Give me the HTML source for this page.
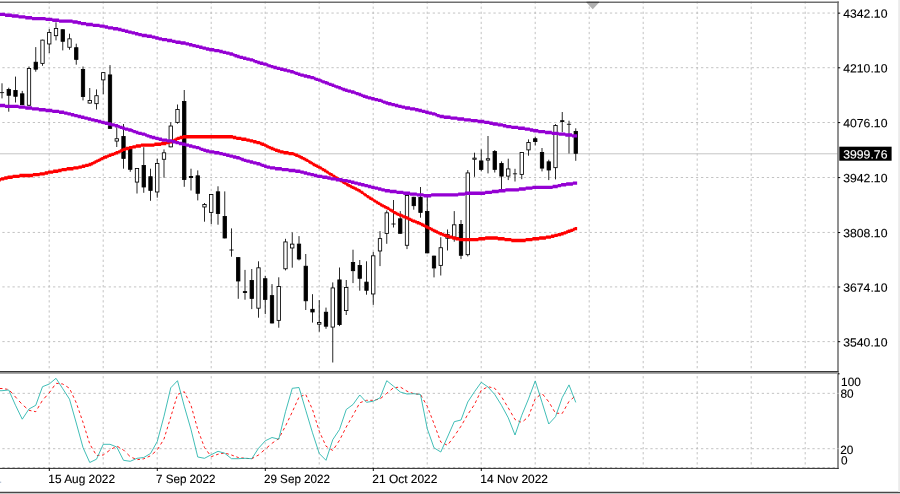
<!DOCTYPE html>
<html lang="en"><head><meta charset="utf-8"><title>Chart</title>
<style>
html,body{margin:0;padding:0;background:#fff;}
body{width:900px;height:494px;overflow:hidden;}
svg{display:block;}
text{font-family:"Liberation Sans",sans-serif;font-size:12px;fill:#000;stroke:#000;stroke-width:0.12px;text-rendering:geometricPrecision;}
</style></head><body>
<svg width="900" height="494" viewBox="0 0 900 494">
<rect width="900" height="494" fill="#fff"/>
<g stroke="#b8b8b8" stroke-width="0.85" stroke-dasharray="2.3 2.7625" fill="none">
<path d="M49.2 1.5V468"/>
<path d="M103.2 1.5V468"/>
<path d="M157.2 1.5V468"/>
<path d="M211.2 1.5V468"/>
<path d="M265.2 1.5V468"/>
<path d="M319.2 1.5V468"/>
<path d="M373.2 1.5V468"/>
<path d="M427.2 1.5V468"/>
<path d="M481.2 1.5V468"/>
<path d="M535.2 1.5V468"/>
<path d="M589.2 1.5V468"/>
<path d="M643.2 1.5V468"/>
<path d="M697.2 1.5V468"/>
<path d="M751.2 1.5V468"/>
<path d="M805.2 1.5V468"/>
<path d="M-2.7 13.05H838"/>
<path d="M-2.7 67.7H838"/>
<path d="M-2.7 122.5H838"/>
<path d="M-2.7 177.5H838"/>
<path d="M-2.7 232.45H838"/>
<path d="M-2.7 286.9H838"/>
<path d="M-2.7 341.6H838"/>
<path d="M-2.7 393.35H838"/>
<path d="M-2.7 448.7H838"/>
</g>
<path d="M0 153.8H838" stroke="#c0c0c0" stroke-width="0.9" fill="none"/>
<g stroke="#000" stroke-width="0.85">
<path d="M2 83.3V98.4" fill="none"/><path d="M-0.1 92.6H4.1" fill="none"/>
<path d="M8.75 87.7V111.7" fill="none"/><rect x="7.08" y="89.52" width="3.35" height="5.75" fill="#000"/>
<path d="M15.5 76.6V102.5" fill="none"/><rect x="13.82" y="90.42" width="3.35" height="5.85" fill="#000"/>
<path d="M22.25 90.9V105.1" fill="none"/><rect x="20.57" y="93.83" width="3.35" height="10.85" fill="#000"/>
<path d="M29 66.5V105.7" fill="none"/><rect x="27.32" y="68.52" width="3.35" height="36.75" fill="#fff"/>
<path d="M35.75 47.1V71.7" fill="none"/><rect x="34.08" y="62.22" width="3.35" height="6.95" fill="#000"/>
<path d="M42.5 39.7V65.8" fill="none"/><rect x="40.83" y="40.12" width="3.35" height="23.25" fill="#fff"/>
<path d="M49.25 29V53.1" fill="none"/><rect x="47.58" y="32.52" width="3.35" height="11.45" fill="#fff"/>
<path d="M56 22.3V40.4" fill="none"/><rect x="54.33" y="28.53" width="3.35" height="7.15" fill="#fff"/>
<path d="M62.75 29.3V50.4" fill="none"/><rect x="61.08" y="29.73" width="3.35" height="11.55" fill="#000"/>
<path d="M69.5 33.7V49.7" fill="none"/><rect x="67.83" y="38.82" width="3.35" height="8.45" fill="#fff"/>
<path d="M76.25 43.7V64.7" fill="none"/><rect x="74.58" y="47.72" width="3.35" height="11.65" fill="#000"/>
<path d="M83 66.5V100.4" fill="none"/><rect x="81.33" y="69.52" width="3.35" height="27.05" fill="#000"/>
<path d="M89.75 88V103.5" fill="none"/><rect x="88.08" y="100.52" width="3.35" height="2.55" fill="#fff"/>
<path d="M96.5 89.4V109.5" fill="none"/><rect x="94.83" y="95.72" width="3.35" height="7.95" fill="#fff"/>
<path d="M103.25 72.2V94.2" fill="none"/><rect x="101.58" y="72.62" width="3.35" height="7.25" fill="#fff"/>
<path d="M110 65.1V128.8" fill="none"/><rect x="108.33" y="74.92" width="3.35" height="53.45" fill="#000"/>
<path d="M116.75 127.3V147" fill="none"/><rect x="115.08" y="138.73" width="3.35" height="2.35" fill="#fff"/>
<path d="M123.5 124V168.7" fill="none"/><rect x="121.83" y="136.43" width="3.35" height="21.95" fill="#000"/>
<path d="M130.25 149V171.8" fill="none"/><rect x="128.57" y="149.43" width="3.35" height="19.85" fill="#000"/>
<path d="M137 168.1V193.5" fill="none"/><rect x="135.32" y="168.53" width="3.35" height="13.55" fill="#fff"/>
<path d="M143.75 147.2V192.8" fill="none"/><rect x="142.07" y="165.53" width="3.35" height="21.45" fill="#000"/>
<path d="M150.5 168.7V200.8" fill="none"/><rect x="148.82" y="176.73" width="3.35" height="13.65" fill="#000"/>
<path d="M157.25 158.7V197.7" fill="none"/><rect x="155.57" y="163.43" width="3.35" height="28.55" fill="#fff"/>
<path d="M164 149.4V177.7" fill="none"/><rect x="162.32" y="152.83" width="3.35" height="6.45" fill="#fff"/>
<path d="M170.75 122.3V147.3" fill="none"/><rect x="169.07" y="126.02" width="3.35" height="20.85" fill="#fff"/>
<path d="M177.5 104.5V123.7" fill="none"/><rect x="175.82" y="109.52" width="3.35" height="12.85" fill="#fff"/>
<path d="M184.25 90V186.8" fill="none"/><rect x="182.57" y="101.52" width="3.35" height="77.95" fill="#000"/>
<path d="M191 168.7V190.5" fill="none"/><rect x="189.32" y="176.43" width="3.35" height="1.15" fill="#000"/>
<path d="M197.75 170.4V200.4" fill="none"/><rect x="196.07" y="175.83" width="3.35" height="17.45" fill="#000"/>
<path d="M204.5 203V221.7" fill="none"/><rect x="202.82" y="204.53" width="3.35" height="2.45" fill="#fff"/>
<path d="M211.25 194.1V224.1" fill="none"/><rect x="209.57" y="194.53" width="3.35" height="17.85" fill="#fff"/>
<path d="M218 186.3V224.7" fill="none"/><rect x="216.32" y="191.83" width="3.35" height="21.65" fill="#000"/>
<path d="M224.75 191.4V238.4" fill="none"/><rect x="223.07" y="216.43" width="3.35" height="21.55" fill="#000"/>
<path d="M231.5 228.4V256.7" fill="none"/><path d="M229.4 250H233.6" fill="none"/>
<path d="M238.25 257.2V298.8" fill="none"/><rect x="236.57" y="257.62" width="3.35" height="23.35" fill="#000"/>
<path d="M245 269.9V299.7" fill="none"/><rect x="243.32" y="291.62" width="3.35" height="0.95" fill="#000"/>
<path d="M251.75 269V309.1" fill="none"/><rect x="250.07" y="280.53" width="3.35" height="17.85" fill="#000"/>
<path d="M258.5 261.3V317.7" fill="none"/><rect x="256.82" y="267.82" width="3.35" height="40.35" fill="#fff"/>
<path d="M265.25 276V314.1" fill="none"/><rect x="263.57" y="278.73" width="3.35" height="20.65" fill="#000"/>
<path d="M272 284.1V323.4" fill="none"/><rect x="270.32" y="295.62" width="3.35" height="27.35" fill="#000"/>
<path d="M278.75 277.3V327.7" fill="none"/><rect x="277.07" y="286.53" width="3.35" height="33.85" fill="#fff"/>
<path d="M285.5 238.8V270.4" fill="none"/><rect x="283.82" y="241.93" width="3.35" height="26.85" fill="#fff"/>
<path d="M292.25 232.4V267.7" fill="none"/><rect x="290.57" y="244.12" width="3.35" height="3.85" fill="#fff"/>
<path d="M299 236.1V260.4" fill="none"/><rect x="297.32" y="244.12" width="3.35" height="14.85" fill="#000"/>
<path d="M305.75 254V310" fill="none"/><rect x="304.07" y="266.23" width="3.35" height="34.55" fill="#000"/>
<path d="M312.5 294.2V322.6" fill="none"/><rect x="310.82" y="309.32" width="3.35" height="2.65" fill="#000"/>
<path d="M319.25 300.1V331.7" fill="none"/><rect x="317.57" y="322.53" width="3.35" height="1.65" fill="#fff"/>
<path d="M326 307.6V328.8" fill="none"/><rect x="324.32" y="312.23" width="3.35" height="13.95" fill="#000"/>
<path d="M332.75 282.4V362.5" fill="none"/><rect x="331.07" y="287.93" width="3.35" height="39.15" fill="#fff"/>
<path d="M339.5 267.5V326.1" fill="none"/><rect x="337.82" y="279.93" width="3.35" height="44.65" fill="#000"/>
<path d="M346.25 280V315" fill="none"/><rect x="344.57" y="287.53" width="3.35" height="23.05" fill="#fff"/>
<path d="M353 249.7V283.1" fill="none"/><rect x="351.32" y="262.53" width="3.35" height="8.15" fill="#000"/>
<path d="M359.75 260V290.7" fill="none"/><rect x="358.07" y="265.43" width="3.35" height="12.85" fill="#000"/>
<path d="M366.5 261.3V294.7" fill="none"/><rect x="364.82" y="282.12" width="3.35" height="8.15" fill="#000"/>
<path d="M373.25 251.9V304.9" fill="none"/><rect x="371.57" y="255.83" width="3.35" height="38.15" fill="#fff"/>
<path d="M380 231.1V266.1" fill="none"/><rect x="378.32" y="238.62" width="3.35" height="12.35" fill="#fff"/>
<path d="M386.75 210.4V243.8" fill="none"/><rect x="385.07" y="212.83" width="3.35" height="20.55" fill="#fff"/>
<path d="M393.5 200V227.5" fill="none"/><path d="M391.4 224H395.6" fill="none"/>
<path d="M400.25 211.1V233.7" fill="none"/><rect x="398.57" y="218.83" width="3.35" height="14.45" fill="#000"/>
<path d="M407 195V249.1" fill="none"/><rect x="405.32" y="195.43" width="3.35" height="49.85" fill="#fff"/>
<path d="M413.75 196.8V209.7" fill="none"/><rect x="412.07" y="197.23" width="3.35" height="8.45" fill="#000"/>
<path d="M420.5 187V217.7" fill="none"/><rect x="418.82" y="197.43" width="3.35" height="14.95" fill="#000"/>
<path d="M427.25 197V253.3" fill="none"/><rect x="425.57" y="211.53" width="3.35" height="41.35" fill="#000"/>
<path d="M434 255.7V277.4" fill="none"/><rect x="432.32" y="256.12" width="3.35" height="11.85" fill="#000"/>
<path d="M440.75 237.2V275.5" fill="none"/><rect x="439.07" y="247.73" width="3.35" height="17.65" fill="#fff"/>
<path d="M447.5 229.5V250.5" fill="none"/><rect x="445.82" y="234.43" width="3.35" height="3.85" fill="#fff"/>
<path d="M454.25 211.1V241.7" fill="none"/><rect x="452.57" y="224.83" width="3.35" height="12.45" fill="#fff"/>
<path d="M461 220V259.1" fill="none"/><rect x="459.32" y="224.43" width="3.35" height="30.85" fill="#000"/>
<path d="M467.75 170.1V256.4" fill="none"/><rect x="466.07" y="172.93" width="3.35" height="81.75" fill="#fff"/>
<path d="M474.5 152.7V176.8" fill="none"/><rect x="472.82" y="158.12" width="3.35" height="1.15" fill="#fff"/>
<path d="M481.25 149.4V171.4" fill="none"/><rect x="479.57" y="160.93" width="3.35" height="8.45" fill="#000"/>
<path d="M488 136V173.4" fill="none"/><rect x="486.32" y="158.73" width="3.35" height="1.35" fill="#fff"/>
<path d="M494.75 150V172.5" fill="none"/><rect x="493.07" y="151.53" width="3.35" height="17.85" fill="#000"/>
<path d="M501.5 161.4V189.5" fill="none"/><rect x="499.82" y="163.53" width="3.35" height="12.55" fill="#000"/>
<path d="M508.25 158.7V180.1" fill="none"/><rect x="506.57" y="168.93" width="3.35" height="7.15" fill="#fff"/>
<path d="M515 168.8V181.5" fill="none"/><path d="M512.9 173.8H517.1" fill="none"/>
<path d="M521.75 152V179.2" fill="none"/><rect x="520.08" y="152.43" width="3.35" height="21.95" fill="#fff"/>
<path d="M528.5 139.4V155.7" fill="none"/><rect x="526.83" y="142.43" width="3.35" height="7.45" fill="#fff"/>
<path d="M535.25 136.7V145.4" fill="none"/><rect x="533.58" y="138.73" width="3.35" height="2.85" fill="#000"/>
<path d="M542 148V171.4" fill="none"/><rect x="540.33" y="152.43" width="3.35" height="15.65" fill="#000"/>
<path d="M548.75 159.7V180.1" fill="none"/><rect x="547.08" y="161.83" width="3.35" height="8.15" fill="#000"/>
<path d="M555.5 124.1V179.4" fill="none"/><rect x="553.83" y="125.52" width="3.35" height="42.15" fill="#fff"/>
<path d="M562.25 112V132.1" fill="none"/><rect x="560.58" y="120.72" width="3.35" height="0.85" fill="#000"/>
<path d="M569 120.7V153.5" fill="none"/><path d="M566.9 124.3H571.1" fill="none"/>
<path d="M575.75 128.3V160.8" fill="none"/><rect x="574.08" y="131.43" width="3.35" height="21.85" fill="#000"/>
</g>
<path transform="scale(0.84375)" d="M0 211h1v4h-1zM1 210h4v4h-4zM5 209h4v4h-4zM9 208h6v4h-6zM15 207h8v4h-8zM23 206h16v4h-16zM39 205h8v4h-8zM47 204h6v4h-6zM53 203h4v4h-4zM57 202h6v4h-6zM63 201h6v4h-6zM69 200h4v4h-4zM73 199h6v4h-6zM79 198h8v4h-8zM87 197h6v4h-6zM93 196h4v4h-4zM97 195h4v4h-4zM101 194h4v4h-4zM105 193h3v4h-3zM108 192h2v4h-2zM110 191h2v4h-2zM112 190h2v4h-2zM114 189h2v4h-2zM116 188h2v4h-2zM118 187h2v4h-2zM120 186h2v4h-2zM122 185h2v4h-2zM124 184h3v4h-3zM127 183h2v4h-2zM129 182h3v4h-3zM132 181h3v4h-3zM135 180h2v4h-2zM137 179h3v4h-3zM140 178h2v4h-2zM142 177h2v4h-2zM144 176h2v4h-2zM146 175h3v4h-3zM149 174h4v4h-4zM153 173h4v4h-4zM157 172h4v4h-4zM161 171h6v4h-6zM167 170h16v4h-16zM183 169h8v4h-8zM191 168h6v4h-6zM197 167h4v4h-4zM201 166h3v4h-3zM204 165h2v4h-2zM206 164h2v4h-2zM208 163h2v4h-2zM210 162h3v4h-3zM213 161h4v4h-4zM217 160h59v4h-59zM276 161h4v4h-4zM280 162h6v4h-6zM286 163h6v4h-6zM292 164h4v4h-4zM296 165h4v4h-4zM300 166h4v4h-4zM304 167h4v4h-4zM308 168h2v4h-2zM310 169h3v4h-3zM313 170h2v4h-2zM315 171h2v4h-2zM317 172h2v4h-2zM319 173h2v4h-2zM321 174h3v4h-3zM324 175h2v4h-2zM326 176h3v4h-3zM329 177h3v4h-3zM332 178h4v4h-4zM336 179h6v4h-6zM342 180h6v4h-6zM348 181h2v4h-2zM350 182h3v4h-3zM353 183h2v4h-2zM355 184h2v4h-2zM357 185h2v4h-2zM359 186h2v4h-2zM361 187h2v4h-2zM363 188h2v4h-2zM365 189h1v4h-1zM366 190h2v4h-2zM368 191h2v4h-2zM370 192h1v4h-1zM371 193h2v4h-2zM373 194h2v4h-2zM375 195h2v4h-2zM377 196h2v4h-2zM379 197h2v4h-2zM381 198h1v4h-1zM382 199h2v4h-2zM384 200h2v4h-2zM386 201h1v4h-1zM387 202h2v4h-2zM389 203h1v4h-1zM390 204h2v4h-2zM392 205h2v4h-2zM394 206h1v4h-1zM395 207h2v4h-2zM397 208h1v4h-1zM398 209h2v4h-2zM400 210h2v4h-2zM402 211h1v4h-1zM403 212h2v4h-2zM405 213h1v4h-1zM406 214h2v4h-2zM408 215h2v4h-2zM410 216h1v4h-1zM411 217h2v4h-2zM413 218h2v4h-2zM415 219h2v4h-2zM417 220h2v4h-2zM419 221h2v4h-2zM421 222h2v4h-2zM423 223h2v4h-2zM425 224h2v4h-2zM427 225h1v4h-1zM428 226h2v4h-2zM430 227h1v4h-1zM431 228h1v4h-1zM432 229h2v4h-2zM434 230h1v4h-1zM435 231h2v4h-2zM437 232h1v4h-1zM438 233h2v4h-2zM440 234h2v4h-2zM442 235h1v4h-1zM443 236h2v4h-2zM445 237h1v4h-1zM446 238h2v4h-2zM448 239h2v4h-2zM450 240h1v4h-1zM451 241h2v4h-2zM453 242h2v4h-2zM455 243h2v4h-2zM457 244h2v4h-2zM459 245h2v4h-2zM461 246h1v4h-1zM462 247h2v4h-2zM464 248h2v4h-2zM466 249h1v4h-1zM467 250h2v4h-2zM469 251h2v4h-2zM471 252h2v4h-2zM473 253h3v4h-3zM476 254h2v4h-2zM478 255h3v4h-3zM481 256h2v4h-2zM483 257h2v4h-2zM485 258h2v4h-2zM487 259h2v4h-2zM489 260h3v4h-3zM492 261h2v4h-2zM494 262h3v4h-3zM497 263h2v4h-2zM499 264h2v4h-2zM501 265h2v4h-2zM503 266h2v4h-2zM505 267h2v4h-2zM507 268h2v4h-2zM509 269h2v4h-2zM511 270h2v4h-2zM513 271h2v4h-2zM515 272h2v4h-2zM517 273h2v4h-2zM519 274h2v4h-2zM521 275h3v4h-3zM524 276h2v4h-2zM526 277h3v4h-3zM529 278h3v4h-3zM532 279h4v4h-4zM536 280h4v4h-4zM540 281h4v4h-4zM544 282h23v4h-23zM567 281h8v4h-8zM575 280h15v4h-15zM590 281h8v4h-8zM598 282h8v4h-8zM606 283h17v4h-17zM623 282h8v4h-8zM631 281h8v4h-8zM639 280h8v4h-8zM647 279h6v4h-6zM653 278h4v4h-4zM657 277h4v4h-4zM661 276h4v4h-4zM665 275h3v4h-3zM668 274h3v4h-3zM671 273h2v4h-2zM673 272h3v4h-3zM676 271h3v4h-3zM679 270h2v4h-2zM681 269h3v4h-3z" fill="#ff0000"/>
<path transform="scale(0.84375)" d="M0 123h6v4h-6zM6 124h16v4h-16zM22 125h8v4h-8zM30 126h8v4h-8zM38 127h8v4h-8zM46 128h8v4h-8zM54 129h8v4h-8zM62 130h8v4h-8zM70 131h6v4h-6zM76 132h4v4h-4zM80 133h4v4h-4zM84 134h4v4h-4zM88 135h4v4h-4zM92 136h4v4h-4zM96 137h4v4h-4zM100 138h4v4h-4zM104 139h4v4h-4zM108 140h4v4h-4zM112 141h4v4h-4zM116 142h4v4h-4zM120 143h4v4h-4zM124 144h4v4h-4zM128 145h4v4h-4zM132 146h4v4h-4zM136 147h4v4h-4zM140 148h2v4h-2zM142 149h3v4h-3zM145 150h3v4h-3zM148 151h4v4h-4zM152 152h4v4h-4zM156 153h2v4h-2zM158 154h3v4h-3zM161 155h3v4h-3zM164 156h4v4h-4zM168 157h4v4h-4zM172 158h2v4h-2zM174 159h3v4h-3zM177 160h3v4h-3zM180 161h4v4h-4zM184 162h4v4h-4zM188 163h4v4h-4zM192 164h6v4h-6zM198 165h6v4h-6zM204 166h4v4h-4zM208 167h4v4h-4zM212 168h4v4h-4zM216 169h4v4h-4zM220 170h4v4h-4zM224 171h4v4h-4zM228 172h4v4h-4zM232 173h4v4h-4zM236 174h2v4h-2zM238 175h3v4h-3zM241 176h3v4h-3zM244 177h4v4h-4zM248 178h6v4h-6zM254 179h6v4h-6zM260 180h4v4h-4zM264 181h4v4h-4zM268 182h4v4h-4zM272 183h4v4h-4zM276 184h4v4h-4zM280 185h4v4h-4zM284 186h2v4h-2zM286 187h3v4h-3zM289 188h3v4h-3zM292 189h4v4h-4zM296 190h4v4h-4zM300 191h4v4h-4zM304 192h4v4h-4zM308 193h2v4h-2zM310 194h3v4h-3zM313 195h3v4h-3zM316 196h4v4h-4zM320 197h6v4h-6zM326 198h8v4h-8zM334 199h8v4h-8zM342 200h8v4h-8zM350 201h6v4h-6zM356 202h4v4h-4zM360 203h4v4h-4zM364 204h4v4h-4zM368 205h4v4h-4zM372 206h4v4h-4zM376 207h6v4h-6zM382 208h6v4h-6zM388 209h4v4h-4zM392 210h6v4h-6zM398 211h8v4h-8zM406 212h6v4h-6zM412 213h4v4h-4zM416 214h4v4h-4zM420 215h4v4h-4zM424 216h4v4h-4zM428 217h4v4h-4zM432 218h4v4h-4zM436 219h4v4h-4zM440 220h4v4h-4zM444 221h4v4h-4zM448 222h4v4h-4zM452 223h4v4h-4zM456 224h6v4h-6zM462 225h8v4h-8zM470 226h8v4h-8zM478 227h8v4h-8zM486 228h8v4h-8zM494 229h8v4h-8zM502 230h9v4h-9zM511 229h32v4h-32zM543 228h8v4h-8zM551 227h24v4h-24zM575 226h8v4h-8zM583 225h8v4h-8zM591 224h8v4h-8zM599 223h16v4h-16zM615 222h8v4h-8zM623 221h8v4h-8zM631 220h24v4h-24zM655 219h6v4h-6zM661 218h4v4h-4zM665 217h6v4h-6zM671 216h8v4h-8zM679 215h5v4h-5z" fill="#9400d3"/>
<path transform="scale(0.84375)" d="M0 15h6v4h-6zM6 16h8v4h-8zM14 17h8v4h-8zM22 18h8v4h-8zM30 19h8v4h-8zM38 20h16v4h-16zM54 21h8v4h-8zM62 22h8v4h-8zM70 23h16v4h-16zM86 24h6v4h-6zM92 25h4v4h-4zM96 26h6v4h-6zM102 27h8v4h-8zM110 28h8v4h-8zM118 29h6v4h-6zM124 30h4v4h-4zM128 31h6v4h-6zM134 32h6v4h-6zM140 33h4v4h-4zM144 34h4v4h-4zM148 35h4v4h-4zM152 36h4v4h-4zM156 37h4v4h-4zM160 38h4v4h-4zM164 39h4v4h-4zM168 40h6v4h-6zM174 41h6v4h-6zM180 42h4v4h-4zM184 43h4v4h-4zM188 44h4v4h-4zM192 45h6v4h-6zM198 46h6v4h-6zM204 47h4v4h-4zM208 48h6v4h-6zM214 49h6v4h-6zM220 50h4v4h-4zM224 51h4v4h-4zM228 52h4v4h-4zM232 53h4v4h-4zM236 54h4v4h-4zM240 55h4v4h-4zM244 56h4v4h-4zM248 57h6v4h-6zM254 58h6v4h-6zM260 59h4v4h-4zM264 60h4v4h-4zM268 61h4v4h-4zM272 62h4v4h-4zM276 63h2v4h-2zM278 64h3v4h-3zM281 65h3v4h-3zM284 66h4v4h-4zM288 67h4v4h-4zM292 68h4v4h-4zM296 69h4v4h-4zM300 70h2v4h-2zM302 71h3v4h-3zM305 72h3v4h-3zM308 73h4v4h-4zM312 74h4v4h-4zM316 75h2v4h-2zM318 76h3v4h-3zM321 77h3v4h-3zM324 78h4v4h-4zM328 79h4v4h-4zM332 80h4v4h-4zM336 81h4v4h-4zM340 82h4v4h-4zM344 83h4v4h-4zM348 84h2v4h-2zM350 85h3v4h-3zM353 86h3v4h-3zM356 87h4v4h-4zM360 88h4v4h-4zM364 89h4v4h-4zM368 90h4v4h-4zM372 91h2v4h-2zM374 92h3v4h-3zM377 93h3v4h-3zM380 94h2v4h-2zM382 95h3v4h-3zM385 96h3v4h-3zM388 97h2v4h-2zM390 98h3v4h-3zM393 99h3v4h-3zM396 100h2v4h-2zM398 101h3v4h-3zM401 102h3v4h-3zM404 103h2v4h-2zM406 104h3v4h-3zM409 105h3v4h-3zM412 106h4v4h-4zM416 107h4v4h-4zM420 108h2v4h-2zM422 109h3v4h-3zM425 110h3v4h-3zM428 111h2v4h-2zM430 112h3v4h-3zM433 113h3v4h-3zM436 114h4v4h-4zM440 115h4v4h-4zM444 116h4v4h-4zM448 117h4v4h-4zM452 118h2v4h-2zM454 119h3v4h-3zM457 120h3v4h-3zM460 121h4v4h-4zM464 122h4v4h-4zM468 123h4v4h-4zM472 124h4v4h-4zM476 125h4v4h-4zM480 126h6v4h-6zM486 127h6v4h-6zM492 128h4v4h-4zM496 129h4v4h-4zM500 130h4v4h-4zM504 131h4v4h-4zM508 132h4v4h-4zM512 133h4v4h-4zM516 134h2v4h-2zM518 135h3v4h-3zM521 136h5v4h-5zM526 137h8v4h-8zM534 138h8v4h-8zM542 139h8v4h-8zM550 140h8v4h-8zM558 141h8v4h-8zM566 142h8v4h-8zM574 143h6v4h-6zM580 144h4v4h-4zM584 145h6v4h-6zM590 146h6v4h-6zM596 147h4v4h-4zM600 148h6v4h-6zM606 149h8v4h-8zM614 150h8v4h-8zM622 151h6v4h-6zM628 152h4v4h-4zM632 153h6v4h-6zM638 154h8v4h-8zM646 155h8v4h-8zM654 156h8v4h-8zM662 157h8v4h-8zM670 158h8v4h-8zM678 159h6v4h-6z" fill="#9400d3"/>
<path d="M0 388.5L2 388.5M2 388.5L2.53 388.58M5.06 388.95L7.59 389.33M9.99 390.88L12.27 393.41M14.54 395.94L15.5 397M15.5 397L16.82 398.47M19.1 401L21.38 403.53M23.81 405.84L26.34 408.02M28.88 410.19L29 410.3M29 410.3L31.41 410.8M33.94 411.32L35.75 411.7M35.75 411.7L36.18 410.98M37.67 408.45L39.17 405.92M40.67 403.39L42.17 400.86M44.28 398.32L46.56 395.79M48.83 393.26L49.25 392.8M49.25 392.8L50.72 390.73M52.52 388.2L54.32 385.67M56.16 383.32L58.69 383.58M61.23 383.84L62.75 384M62.75 384L63.76 384.64M66.29 386.25L68.82 387.87M70.36 390.15L71.54 392.68M72.72 395.21L73.9 397.74M75.07 400.28L76.25 402.8M76.25 402.8L76.25 402.81M77.13 405.34L78 407.87M78.88 410.4L79.76 412.93M80.63 415.46L81.51 417.99M82.39 420.53L83 422.3M83 422.3L83.24 423.06M84.02 425.59L84.81 428.12M85.6 430.65L86.38 433.18M87.17 435.71L87.96 438.24M88.75 440.78L89.53 443.31M90.83 445.84L92.31 448.37M93.8 450.9L95.29 453.43M96.96 455.47L99.49 455.28M102.03 455.09L103.25 455M103.25 455L104.56 454.03M107.09 452.16L109.62 450.28M112.15 448.73L114.68 447.23M117.21 446.27L119.74 447.77M122.28 449.27L123.5 450M123.5 450L124.81 451.3M127.34 453.81L129.87 456.32M132.4 457.66L134.93 458.78M137.46 459.64L139.99 459.3M142.53 458.96L143.75 458.8M143.75 458.8L145.06 458.22M147.59 457.09L150.12 455.97M152.65 453.95L155.18 451.78M157.53 449.54L159.09 447.01M160.64 444.47L162.19 441.94M163.75 439.41L164 439M164 439L164.65 436.88M165.43 434.35L166.2 431.82M166.98 429.29L167.76 426.76M168.53 424.22L169.31 421.69M170.09 419.16L170.75 417M170.75 417L170.86 416.63M171.62 414.1L172.38 411.57M173.14 409.04L173.9 406.51M174.66 403.97L175.42 401.44M176.18 398.91L176.94 396.38M178.15 394.23L180.68 393.18M183.21 392.13L184.25 391.7M184.25 391.7L184.99 393.19M186.25 395.73L187.5 398.26M188.76 400.79L190.02 403.32M191.15 405.85L191.86 408.38M192.57 410.91L193.27 413.44M193.98 415.98L194.68 418.51M195.39 421.04L196.1 423.57M196.8 426.1L197.51 428.63M198.37 431.16L199.32 433.69M200.27 436.23L201.22 438.76M202.17 441.29L203.12 443.82M204.07 446.35L204.5 447.5M204.5 447.5L205.51 448.88M207.37 451.41L209.23 453.94M211.08 456.48L211.25 456.7M211.25 456.7L213.56 455.85M216.09 454.91L218 454.2M218 454.2L218.62 454.09M221.15 453.64L223.68 453.19M226.21 453.43L228.74 454.18M231.28 454.93L231.5 455M231.5 455L233.81 455.85M236.34 456.79L238.25 457.5M238.25 457.5L238.87 457.57M241.4 457.87L243.93 458.17M246.46 458.39L248.99 458.54M251.53 458.69L251.75 458.7M251.75 458.7L254.06 457.44M256.59 456.05L258.5 455M258.5 455L259.12 454.47M261.65 452.29L264.18 450.12M266.71 447.92L269.24 445.71M271.78 443.5L272 443.3M272 443.3L274.31 441.73M276.84 440L278.75 438.7M278.75 438.7L279.08 438.08M280.42 435.55L281.77 433.02M283.11 430.49L284.46 427.96M285.78 425.42L287 422.89M288.22 420.36L289.44 417.83M290.66 415.3L291.88 412.77M293.04 410.24L294.18 407.71M295.32 405.17L296.46 402.64M297.6 400.11L298.74 397.58M300.95 396.28L303.48 395.34M305.87 394.76L307.01 397.29M308.15 399.83L309.29 402.36M310.42 404.89L311.56 407.42M312.64 409.95L313.43 412.48M314.21 415.01L315 417.54M315.79 420.08L316.58 422.61M317.36 425.14L318.15 427.67M318.94 430.2L319.25 431.2M319.25 431.2L319.94 432.73M321.08 435.26L322.22 437.79M323.36 440.33L324.5 442.86M325.63 445.39L326 446.2M326 446.2L327.72 447.29M330.25 448.91L332.75 450.5M332.75 450.5L332.77 450.47M334.45 447.94L336.12 445.41M337.8 442.87L339.47 440.34M340.76 437.81L342.05 435.28M343.33 432.75L344.62 430.22M345.9 427.69L346.25 427M346.25 427L347.31 425.16M348.77 422.62L350.23 420.09M351.69 417.56L353 415.3M353 415.3L353.15 415.03M354.51 412.5L355.88 409.97M357.25 407.44L358.61 404.91M360.18 402.64L362.71 401.71M365.24 400.77L366.5 400.3M366.5 400.3L367.77 400.3M370.3 400.3L372.83 400.3M375.36 399.89L377.89 399.41M380.43 398.64L382.96 396.5M385.49 394.37L386.75 393.3M386.75 393.3L388.02 392.27M390.55 390.2L393.08 388.14M395.61 387.55L398.14 387.25M400.68 387.26L403.21 388.84M405.74 390.41L407 391.2M407 391.2L408.27 391.67M410.8 392.61L413.33 393.54M415.86 393.95L418.39 394.25M420.75 394.93L422.21 397.46M423.67 399.99L425.13 402.52M426.59 405.05L427.25 406.2M427.25 406.2L427.78 407.58M428.76 410.11L429.74 412.64M430.71 415.18L431.69 417.71M432.66 420.24L433.64 422.77M434.59 425.3L435.52 427.83M436.46 430.36L437.39 432.89M438.32 435.43L439.26 437.96M440.19 440.49L440.75 442M440.75 442L441.77 442.5M444.3 443.74L446.83 444.97M448.88 443.44L450.76 440.91M452.64 438.37L454.25 436.2M454.25 436.2L454.49 435.84M456.2 433.31L457.91 430.78M459.62 428.25L461 426.2M461 426.2L461.28 425.72M462.74 423.19L464.2 420.66M465.66 418.12L467.12 415.59M468.72 413.06L470.43 410.53M472.14 408L473.85 405.47M475.24 402.94L476.45 400.41M477.65 397.87L478.85 395.34M480.06 392.81L481.25 390.3M481.25 390.3L481.27 390.29M483.8 388.94L486.33 387.59M488.86 386.9L491.39 387.5M493.93 388.1L494.75 388.3M494.75 388.3L496.12 390.01M498.16 392.54L500.19 395.07M502.05 397.6L503.59 400.13M505.13 402.66L506.67 405.19M508.2 407.73L508.25 407.8M508.25 407.8L509.67 410.26M511.13 412.79L512.59 415.32M514.05 417.85L515 419.5M515 419.5L515.88 419.89M518.41 421.02L520.94 422.14M523.48 420.99L526.01 418.78M528.51 416.56L529.47 414.03M530.42 411.5L531.38 408.97M532.33 406.44L533.29 403.91M534.24 401.37L535.2 398.84M537.64 396.83L540.17 394.84M542.56 394.1L544.6 396.63M546.63 399.16L548.66 401.69M550.19 404.23L551.68 406.76M553.18 409.29L554.68 411.82M556.65 413.23L559.18 413.31M561.71 413.38L562.25 413.4M562.25 413.4L563.37 411.41M564.8 408.87L566.22 406.34M567.64 403.81L569 401.4M569 401.4L569.12 401.3M571.65 399.12L574.18 396.95" stroke="#ff0000" stroke-width="0.9" fill="none"/>
<path d="M0 390.7L2 390.7L8.75 390L15.5 405.3L22.25 419.2L29 409L35.75 405.3L42.5 386.7L49.25 384L56 378.3L62.75 388.7L69.5 399.2L76.25 423L83 447.5L89.75 462.5L96.5 459.2L103.25 444.3L110 444.3L116.75 447L123.5 460.3L130.25 461.3L137 458.3L143.75 457.5L150.5 453.5L157.25 441.5L164 416.2L170.75 387.8L177.5 380.7L184.25 406.2L191 429.5L197.75 457L204.5 458.3L211.25 454.7L218 451.3L224.75 453.3L231.5 458.7L238.25 458.7L245 458.3L251.75 458.7L258.5 448.3L265.25 440.8L272 437.5L278.75 439.2L285.5 411.7L292.25 388.3L299 387.5L305.75 410.3L312.5 432.8L319.25 453.5L326 460.3L332.75 439.7L339.5 429.5L346.25 409.5L353 404.5L359.75 395L366.5 402.3L373.25 401.2L380 397.8L386.75 380.7L393.5 386.2L400.25 392L407 394L413.75 393.7L420.5 394.5L427.25 428.7L434 447.8L440.75 452L447.5 437L454.25 421.7L461 420L467.75 402L474.5 391.7L481.25 382.3L488 387L494.75 394.5L501.5 405.3L508.25 417.8L515 435L521.75 415.3L528.5 398.9L535.25 380.9L542 402.3L548.75 424L555.5 416.7L562.25 397.5L569 384.9L575.75 402.4" stroke="#20b2aa" stroke-width="0.85" fill="none" stroke-linejoin="round"/>
<rect x="0" y="481.7" width="1.2" height="1" fill="#9fb0c8"/>
<path d="M586.2 2.3h13.1l-6.55 7z" fill="#b0b0b0"/>
<g fill="none">
<path d="M0 2.2H838.9" stroke="#707070" stroke-width="1.6"/>
<path d="M586.5 2.3h12.5" stroke="#404040" stroke-width="1"/>
<path d="M838 1.4V468.8" stroke="#6c6c6c" stroke-width="1.5"/>
<path d="M0 371.5H838.5" stroke="#383838" stroke-width="1"/>
<path d="M0 372.9H837.2" stroke="#8c8c8c" stroke-width="1.7"/>
<path d="M-2.7 467.5H838" stroke="#b8b8b8" stroke-width="0.85" stroke-dasharray="2.3 2.7625"/>
<path d="M0 468.4H838.7" stroke="#1c1c1c" stroke-width="0.95"/>
<path d="M0 492.5H900" stroke="#484848" stroke-width="1.3"/>
<path d="M0 493.6H900" stroke="#c4c4c4" stroke-width="0.9"/>
<path d="M899.1 0V492" stroke="#ebebeb" stroke-width="1.8"/>
<path d="M837.2 393.35h1.6M837.2 448.7h1.6" stroke="#d8d8d8" stroke-width="0.8"/>
<path d="M838 13.15h2.2M838 67.8h2.2M838 122.6h2.2M838 177.6h2.2M838 232.55h2.2M838 287h2.2M838 341.7h2.2M838 373.8h1.6" stroke="#000" stroke-width="1"/>
<path d="M49.3 468v3M157.3 468v3M265.3 468v3M373.3 468v3M481.3 468v3" stroke="#000" stroke-width="0.95"/>
</g>
<text transform="matrix(1.02 0.0005 0 1 843.2 17.85)">4342.10</text>
<text transform="matrix(1.02 0.0005 0 1 843.2 72.5)">4210.10</text>
<text transform="matrix(1.02 0.0005 0 1 843.2 127.3)">4076.10</text>
<text transform="matrix(1.02 0.0005 0 1 843.2 182.3)">3942.10</text>
<text transform="matrix(1.02 0.0005 0 1 843.2 237.25)">3808.10</text>
<text transform="matrix(1.02 0.0005 0 1 843.2 291.7)">3674.10</text>
<text transform="matrix(1.02 0.0005 0 1 843.2 346.4)">3540.10</text>
<rect x="839.3" y="146.7" width="52.3" height="14" fill="#000"/>
<text transform="matrix(1.02 0.0005 0 1 843.2 158.4)" style="fill:#fff;stroke:#fff">3999.76</text>
<text transform="matrix(0.985 0.0005 0 1 841.1 386)">100</text>
<text transform="matrix(0.985 0.0005 0 1 840.5 397.8)">80</text>
<text transform="matrix(0.985 0.0005 0 1 840.3 453.9)">20</text>
<text transform="matrix(0.985 0.0005 0 1 840.9 464.6)">0</text>
<text transform="matrix(0.99 0.0005 0 1 48.3 482.9)">15 Aug 2022</text>
<text transform="matrix(0.972 0.0005 0 1 155.9 482.9)">7 Sep 2022</text>
<text transform="matrix(0.972 0.0005 0 1 263.9 482.9)">29 Sep 2022</text>
<text transform="matrix(0.995 0.0005 0 1 372.3 482.9)">21 Oct 2022</text>
<text transform="matrix(0.995 0.0005 0 1 480.3 482.9)">14 Nov 2022</text>
</svg>
</body></html>
